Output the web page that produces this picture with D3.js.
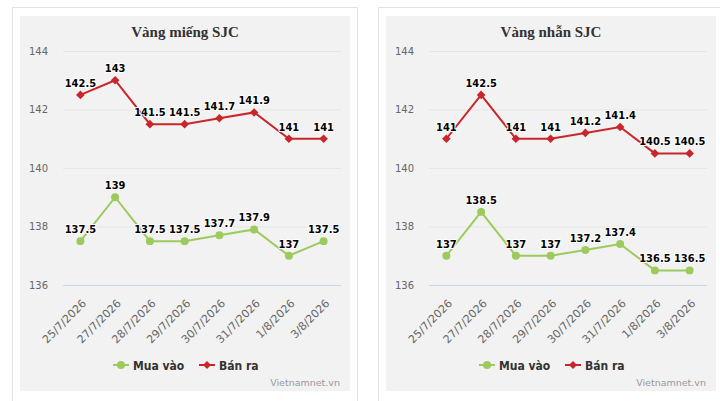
<!DOCTYPE html>
<html><head><meta charset="utf-8">
<script src="https://cdn.jsdelivr.net/npm/d3@7/dist/d3.min.js"></script>
<style>
html,body{margin:0;padding:0;background:#fff;}
svg{display:block;}
</style></head>
<body>
<svg id="c" width="720" height="401"></svg>
<script>
const dates = ["25/7/2026","27/7/2026","28/7/2026","29/7/2026","30/7/2026","31/7/2026","1/8/2026","3/8/2026"];
const yTicks = [136,138,140,142,144];
const mienBuy = [137.5,139,137.5,137.5,137.7,137.9,137,137.5];
const mienSell = [142.5,143,141.5,141.5,141.7,141.9,141,141];
const nhanBuy = [137,138.5,137,137,137.2,137.4,136.5,136.5];
const nhanSell = [141,142.5,141,141,141.2,141.4,140.5,140.5];
const titles = ["Vàng miếng SJC","Vàng nhẫn SJC"];
const seriesNames = ["Mua vào","Bán ra"];
const credit = "Vietnamnet.vn";

const GREEN = "#9dca5c", RED = "#c8262b";
const svg = d3.select("#c");

function panel(ox, title, buy, sell, cardRight){
  svg.append("rect").attr("x", ox+12.5).attr("y", 7.5).attr("width", cardRight-ox-12).attr("height", 420)
    .attr("fill", "#fff").attr("stroke", "#e3e3e3");
  svg.append("rect").attr("x", ox+20).attr("y", 16).attr("width", 330).attr("height", 375).attr("fill", "#f2f2f2");
  const g = svg.append("g").attr("transform", `translate(${ox},0)`);
  const x = d3.scalePoint().domain(dates).range([63,341]).padding(0.5);
  const y = d3.scaleLinear().domain([136,144]).range([285,51]);
  g.append("text").attr("x",185).attr("y",37).attr("text-anchor","middle")
    .style("font-family","'Liberation Serif','Times New Roman',serif").style("font-weight","bold")
    .style("font-size","15px").attr("fill","#333").text(title);
  const ya = d3.axisLeft(y).tickValues(yTicks).tickSize(-(341-63)).tickFormat(d=>d).tickPadding(15);
  const yg = g.append("g").attr("transform","translate(63,0)").call(ya);
  yg.select(".domain").remove();
  yg.selectAll(".tick line").attr("stroke", d => d===136 ? "#ccd6eb" : "#e6e6e6");
  yg.selectAll(".tick text").attr("fill","#666").style("font-family","'DejaVu Sans',Verdana,sans-serif").style("font-size","10px").attr("dy","0.32em");
  const xa = d3.axisBottom(x).tickSize(0).tickFormat(d=>d);
  const xg = g.append("g").attr("transform","translate(0,285)").call(xa);
  xg.select(".domain").remove();
  xg.selectAll(".tick text").attr("fill","#666").style("font-family","'DejaVu Sans',Verdana,sans-serif").style("font-size","11px")
    .attr("text-anchor","end").attr("x",0).attr("y",0).attr("dy",0)
    .attr("transform","translate(6,19) rotate(-45)");
  const line = d3.line().x((d,i)=>x(dates[i])).y(d=>y(d));
  function series(vals, color, shape){
    g.append("path").datum(vals).attr("d", line).attr("fill","none").attr("stroke",color).attr("stroke-width",2);
    g.selectAll(null).data(vals).enter().append("path")
      .attr("d", shape==="circle" ? d3.symbol(d3.symbolCircle, 50)() : "M0,-4.3L4.3,0L0,4.3L-4.3,0Z")
      .attr("transform",(d,i)=>`translate(${x(dates[i])},${y(d)})`)
      .attr("fill",color);
    g.selectAll(null).data(vals).enter().append("text")
      .attr("x",(d,i)=>x(dates[i])).attr("y",d=>y(d)-8).attr("text-anchor","middle")
      .style("font-family","'DejaVu Sans Condensed','DejaVu Sans',sans-serif").style("font-stretch","condensed")
      .style("font-weight","bold").style("font-size","11px")
      .attr("fill","#000").attr("stroke","#fff").attr("stroke-width",2).attr("stroke-linejoin","round")
      .style("paint-order","stroke").text(d=>d);
  }
  series(buy, GREEN, "circle");
  series(sell, RED, "diamond");
  const lg = g.append("g");
  lg.append("line").attr("x1",113).attr("x2",129).attr("y1",365).attr("y2",365).attr("stroke",GREEN).attr("stroke-width",2);
  lg.append("circle").attr("cx",121).attr("cy",365).attr("r",4).attr("fill",GREEN);
  lg.append("text").attr("x",133).attr("y",369.5).text(seriesNames[0]);
  lg.append("line").attr("x1",199).attr("x2",215).attr("y1",365).attr("y2",365).attr("stroke",RED).attr("stroke-width",2);
  lg.append("path").attr("d","M0,-4L4,0L0,4L-4,0Z").attr("transform","translate(207,365)").attr("fill",RED);
  lg.append("text").attr("x",219).attr("y",369.5).text(seriesNames[1]);
  lg.selectAll("text").attr("fill","#333").style("font-family","'DejaVu Sans Condensed','DejaVu Sans',sans-serif")
    .style("font-stretch","condensed").style("font-weight","bold").style("font-size","12px");
  g.append("text").attr("x",340).attr("y",386).attr("text-anchor","end").attr("fill","#999")
    .style("font-family","'DejaVu Sans',Verdana,sans-serif").style("font-size","9.5px").text(credit);
}
panel(0, titles[0], mienBuy, mienSell, 357);
panel(366, titles[1], nhanBuy, nhanSell, 721);
</script>
</body></html>
